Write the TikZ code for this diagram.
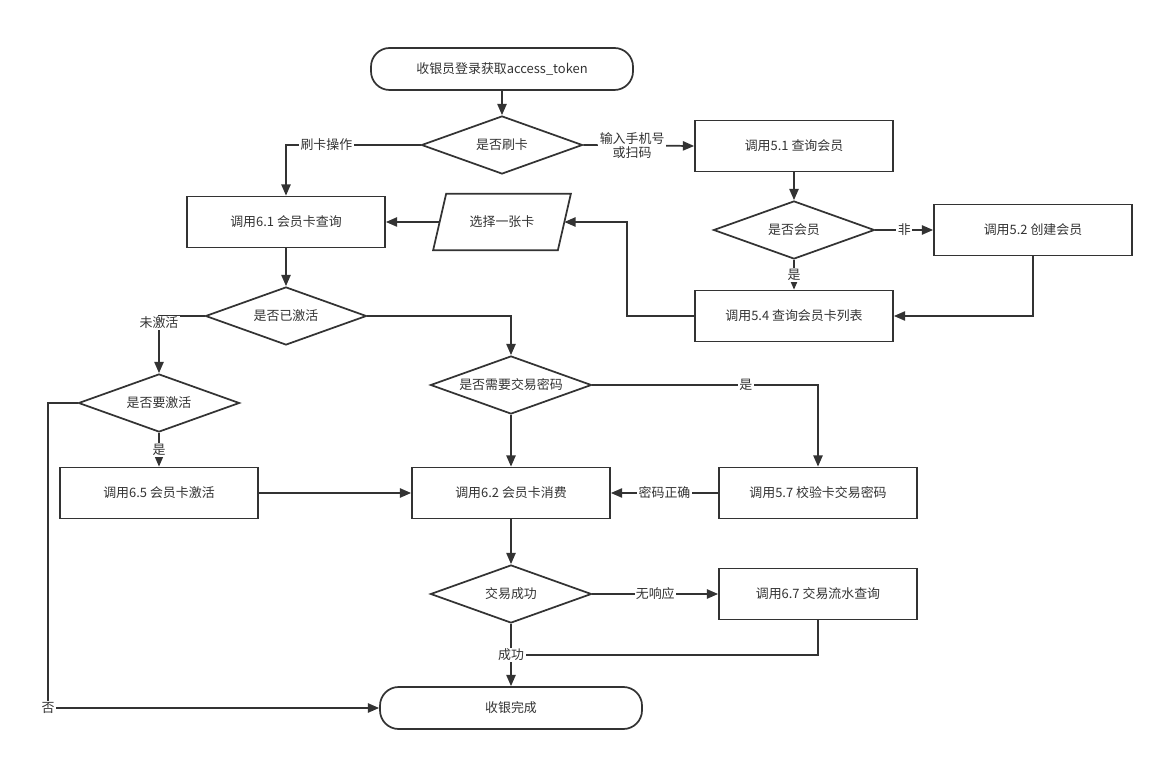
\documentclass[tikz,border=0pt]{standalone}
\usepackage{fontspec}
\setmainfont{Noto Sans CJK SC}
\usetikzlibrary{shapes.geometric,arrows.meta}
\definecolor{ink}{HTML}{333333}

\begin{document}
\begin{tikzpicture}[x=0.75pt, y=-0.75pt, >={Triangle[length=8.5pt,width=7pt]},
  line width=1.3pt, draw=ink, text=ink, font=\fontsize{9.7}{12}\selectfont,
  proc/.style={draw, rectangle, minimum width=148.5pt, minimum height=38.25pt, inner sep=2pt},
  term/.style={draw, rectangle, rounded corners=14pt, minimum width=196.5pt, minimum height=31.5pt},
  dec/.style={draw, diamond, aspect=2.78, minimum width=120.75pt, minimum height=43.5pt, inner sep=0pt},
  io/.style={rectangle, minimum width=102pt, minimum height=41pt, inner sep=0pt},
  lbl/.style={fill=white, inner sep=1pt, align=center, font=\fontsize{9.7}{11}\selectfont}]
  \useasboundingbox (0,0) rectangle (1163,762);

  % Login and first decision
  \node[term] (start) at (502,69) {收银员登录获取access\_token};
  \node[dec] (swipe) at (502,145) {是否刷卡};

  % Member lookup branch
  \node[proc] (q51) at (794,146) {调用5.1 查询会员};
  \node[dec] (member) at (794,230) {是否会员};
  \node[proc] (c52) at (1033,230) {调用5.2 创建会员};
  \node[proc] (l54) at (794,316) {调用5.4 查询会员卡列表};

  % Card query and card choice (parallelogram drawn round the node)
  \node[proc] (q61) at (286,222) {调用6.1 会员卡查询};
  \node[io] (pick) at (502,222) {选择一张卡};
  \draw ([xshift=9.75pt]pick.north west) -- (pick.north east)
    -- ([xshift=-9.75pt]pick.south east) -- (pick.south west) -- cycle;
  \coordinate (pickE) at ([xshift=-4.9pt]pick.east);
  \coordinate (pickW) at ([xshift=4.9pt]pick.west);
  \node[dec] (active) at (286,316) {是否已激活};

  % Activation and payment
  \node[dec] (pwd) at (511,385) {是否需要交易密码};
  \node[dec] (doact) at (159,403) {是否要激活};
  \node[proc] (a65) at (159,493) {调用6.5 会员卡激活};
  \node[proc] (p62) at (511,493) {调用6.2 会员卡消费};
  \node[proc] (v57) at (818,493) {调用5.7 校验卡交易密码};
  \node[dec] (ok) at (511,594) {交易成功};
  \node[proc] (f67) at (818,594) {调用6.7 交易流水查询};
  \node[term] (done) at (511,708) {收银完成};

  % Corner points
  \coordinate (c54) at (627,316);
  \coordinate (cno) at (48,403);

  % Connectors
  \draw[->] (start) -- (swipe);
  \draw[->] (swipe.west) -| node[lbl,pos=0.35] (l1) {刷卡操作} (q61.north);
  \draw[->] (swipe.east) -- node[lbl,pos=0.44] (l2) {输入手机号\\或扫码} (q51.west);
  \draw[->] (q51) -- (member);
  \draw[->] (member.east) -- node[lbl] (l3) {非} (c52.west);
  \draw[->] (member.south) -- node[lbl] (l4) {是} (l54.north);
  \draw[->] (c52.south) |- (l54.east);
  \draw[->] (l54.west) -- (c54) |- (pickE);
  \draw[->] (pickW) -- (q61.east);
  \draw[->] (q61) -- (active);
  \draw[->] (active.west) -| node[lbl,pos=0.56] (l5) {未激活} (doact.north);
  \draw[->] (active.east) -| (pwd.north);
  \draw[->] (pwd.east) -| node[lbl,pos=0.34] (l6) {是} (v57.north);
  \draw[->] (pwd.south) -- (p62.north);
  \draw[->] (doact.south) -- node[lbl] (l7) {是} (a65.north);
  \draw[->] (doact.west) -- (cno) |- node[lbl,pos=0.5] (l8) {否} (done.west);
  \draw[->] (a65.east) -- (p62.west);
  \draw[->] (v57.west) -- node[lbl] (l9) {密码正确} (p62.east);
  \draw[->] (p62) -- (ok);
  \draw[->] (ok.east) -- node[lbl] (l10) {无响应} (f67.west);
  \draw[->] (ok.south) -- node[lbl] (l11) {成功} (done.north);
  \draw (f67.south) |- (l11.east);
\end{tikzpicture}
\end{document}
